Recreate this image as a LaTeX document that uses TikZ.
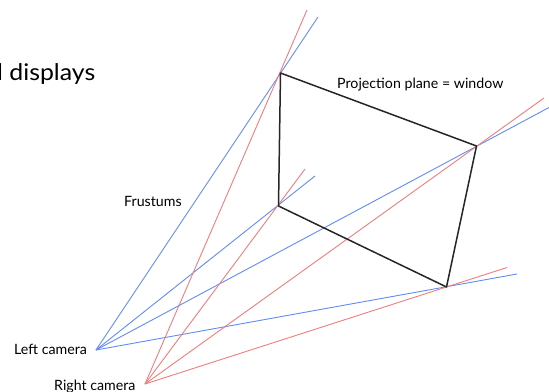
\documentclass[tikz,border=0pt]{standalone}
\usepackage{fontspec}
\setmainfont{Lato}
\definecolor{camblue}{RGB}{95,140,245}
\definecolor{camred}{RGB}{240,125,125}
\begin{document}
\begin{tikzpicture}[x=1pt,y=-1pt,
  ray/.style={line width=0.9pt},
  bluray/.style={ray,draw=camblue},
  redray/.style={ray,draw=camred},
  frame/.style={line width=1.5pt,draw=black!85,line join=round},
  lbl/.style={inner sep=0pt,anchor=base west,font=\fontsize{14.2}{17}\selectfont}]
\useasboundingbox (0,0) rectangle (549,391);
% cameras
\coordinate (L) at (96,350);
\coordinate (R) at (145,384);
% window corners
\coordinate (TL) at (280.5,73);
\coordinate (TR) at (476.5,146);
\coordinate (BR) at (446.5,287);
\coordinate (BL) at (278.5,206);
% ray ends
\coordinate (bTL) at (318,17);
\coordinate (bTR) at (549,107.5);
\coordinate (bBL) at (315,176);
\coordinate (bBR) at (517,274);
\coordinate (rTL) at (307,10);
\coordinate (rTR) at (544,98);
\coordinate (rBL) at (305,169);
\coordinate (rBR) at (507,267.5);
% blue frustum
\foreach \e in {bTL,bTR,bBL,bBR} \draw[bluray] (L) -- (\e);
% red frustum
\foreach \e in {rTL,rTR,rBL,rBR} \draw[redray] (R) -- (\e);
% projection plane
\draw[frame] (TL) -- (TR) -- (BR) -- (BL) -- cycle;
% labels
\node[lbl] (pp) at (337,88.5) {Projection plane = window};
\node[lbl] (fr) at (124,206) {Frustums};
\node[lbl] (lc) at (14,354) {Left camera};
\node[lbl] (rc) at (54,390.5) {Right camera};
\node[inner sep=0pt,anchor=base west,font=\fontsize{23}{27}\selectfont] (ti) at (-3,80) {\scalebox{1.08}[1]{l displays}};
\end{tikzpicture}
\end{document}
